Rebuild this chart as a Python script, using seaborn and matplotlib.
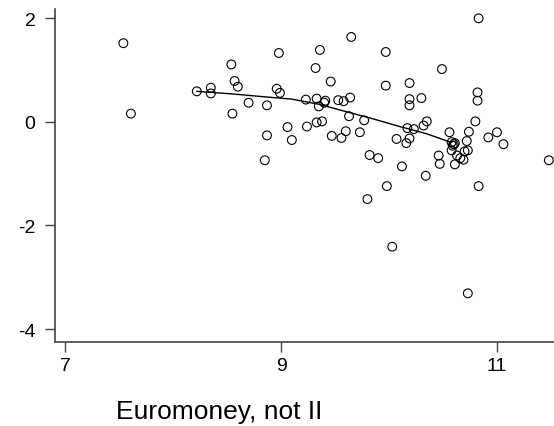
import numpy as np
import pandas as pd
import matplotlib
matplotlib.use("Agg")
import matplotlib.pyplot as plt
import seaborn as sns

# scatter values
euromoney = [7.54, 7.61, 8.22, 8.35, 8.35, 8.54, 8.57, 8.60, 8.55, 8.70,
             8.87, 8.98, 8.96, 8.99, 9.06, 8.87, 9.10, 8.85, 9.23, 9.24,
             9.65, 9.36, 9.97, 9.32, 9.46, 9.97, 10.19, 10.19, 10.19, 10.30,
             9.33, 9.35, 9.40, 9.41, 9.53, 9.58, 9.64, 9.63, 9.77, 9.33,
             9.38, 9.47, 9.56, 9.60, 9.73, 9.82, 9.90, 10.12, 10.07, 10.17,
             10.23, 10.19, 10.16, 10.32, 10.35, 10.82, 10.82, 10.80, 10.56, 10.74,
             11.00, 10.92, 11.06, 10.72, 10.58, 10.60, 10.61, 10.59, 10.58, 10.70,
             10.73, 10.63, 10.66, 10.69, 10.46, 10.47, 10.61, 10.34, 9.98, 10.83,
             9.80, 10.03, 10.73, 10.83, 10.49, 11.48]
resid = [1.52, 0.16, 0.59, 0.66, 0.55, 1.11, 0.79, 0.68, 0.16, 0.37,
         0.32, 1.33, 0.64, 0.56, -0.10, -0.26, -0.35, -0.74, 0.43, -0.09,
         1.64, 1.39, 1.35, 1.04, 0.78, 0.70, 0.75, 0.44, 0.32, 0.46,
         0.45, 0.30, 0.37, 0.41, 0.42, 0.40, 0.47, 0.11, 0.03, -0.01,
         0.01, -0.27, -0.31, -0.18, -0.20, -0.64, -0.70, -0.86, -0.33, -0.12,
         -0.14, -0.32, -0.41, -0.07, 0.01, 0.57, 0.41, 0.01, -0.20, -0.19,
         -0.20, -0.30, -0.43, -0.37, -0.39, -0.43, -0.41, -0.46, -0.55, -0.57,
         -0.55, -0.65, -0.70, -0.73, -0.65, -0.81, -0.82, -1.04, -1.24, -1.24,
         -1.49, -2.41, -3.31, 2.00, 1.02, -0.74]

# smoothed line
smooth_x = [8.22, 8.55, 8.87, 9.10, 9.35, 9.60, 9.85, 10.10, 10.35, 10.58]
smooth_y = [0.59, 0.54, 0.48, 0.44, 0.34, 0.20, 0.06, -0.09, -0.23, -0.40]

xticks = [7, 9, 11]
yticks = [-4, -2, 0, 2]

df = pd.DataFrame({"x": euromoney, "y": resid})
line_df = pd.DataFrame({"x": smooth_x, "y": smooth_y})

sns.set_style("ticks")
plt.rcParams['font.family'] = ['Liberation Sans', 'DejaVu Sans']
plt.rcParams['axes.unicode_minus'] = False
plt.rcParams['text.color'] = 'black'
plt.rcParams['xtick.labelcolor'] = 'black'
plt.rcParams['ytick.labelcolor'] = 'black'

fig = plt.figure(figsize=(5.54, 4.27), dpi=100)
ax = fig.add_axes([55 / 554, 84 / 427, 1 - 55 / 554, (343 - 10) / 427])

sns.scatterplot(data=df, x="x", y="y", ax=ax, marker="o", s=40,
                facecolor="none", edgecolor="black", linewidth=0.8, zorder=3)
sns.lineplot(data=line_df, x="x", y="y", ax=ax, color="black", linewidth=1.0,
             sort=False, zorder=2)

ax.set_xlim(6.907, 11.528)
ax.set_ylim(-4.25, 2.18)
ax.set_xticks(xticks)
ax.set_yticks(yticks)
ax.set_xlabel("")
ax.set_ylabel("")
ax.tick_params(axis="both", labelsize=14, length=7, width=1, color="#444444",
               labelcolor="black")
ax.tick_params(axis="y", pad=7)
ax.tick_params(axis="x", pad=4)
for side in ["top", "right"]:
    ax.spines[side].set_visible(False)
for side in ["left", "bottom"]:
    ax.spines[side].set_color("#444444")
    ax.spines[side].set_linewidth(1.2)

fig.text(219 / 554, 1 - 412 / 427, "Euromoney, not II", fontsize=19,
         ha="center", va="center", color="black")

fig.savefig("out.png", dpi=100)
